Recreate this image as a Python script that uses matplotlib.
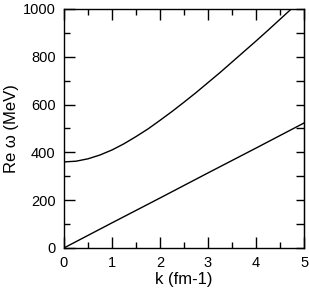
import numpy as np
import matplotlib.pyplot as plt
from matplotlib.ticker import MultipleLocator

plt.rcParams['font.family'] = ['Liberation Sans', 'DejaVu Sans']

# wave number (fm^-1)
k = [0.0, 0.25, 0.5, 0.75, 1.0, 1.25, 1.5, 1.75, 2.0, 2.25, 2.5,
     2.75, 3.0, 3.25, 3.5, 3.75, 4.0, 4.25, 4.5, 4.75, 5.0]
# upper branch Re omega (MeV)
omega_upper = [360, 363, 373, 389, 410, 436, 466, 498, 534, 571, 610,
               650, 692, 734, 778, 822, 866, 911, 957, 1003, 1049]
# lower branch Re omega (MeV)
k_lower = [0.0, 1.0, 2.0, 3.0, 4.0, 5.0]
omega_lower = [0, 105, 209, 314, 418, 523]

fig = plt.figure(figsize=(3.09, 2.90), dpi=100)
ax = fig.add_axes([0.207, 0.145, 0.777, 0.824])

ax.plot(k, omega_upper, color='black', lw=1.0)
ax.plot(k_lower, omega_lower, color='black', lw=1.0)

ax.set_xlim(0, 5)
ax.set_ylim(0, 1000)
ax.xaxis.set_major_locator(MultipleLocator(1))
ax.xaxis.set_minor_locator(MultipleLocator(0.5))
ax.yaxis.set_major_locator(MultipleLocator(200))
ax.yaxis.set_minor_locator(MultipleLocator(100))
ax.tick_params(which='both', direction='in', top=True, right=False,
               labelsize=10.5, width=1.0, pad=6)
ax.tick_params(which='major', length=8)
ax.tick_params(which='minor', length=4)

# right side: equal-length ticks every 100
sec = ax.secondary_yaxis('right')
sec.yaxis.set_major_locator(MultipleLocator(100))
sec.tick_params(direction='in', length=6, width=1.0, labelright=False)

for s in ax.spines.values():
    s.set_linewidth(1.0)

ax.set_xlabel('k (fm-1)', fontsize=12, labelpad=1)
ax.set_ylabel('Re ω (MeV)', fontsize=12, labelpad=3)

fig.savefig('out.png', dpi=100)
